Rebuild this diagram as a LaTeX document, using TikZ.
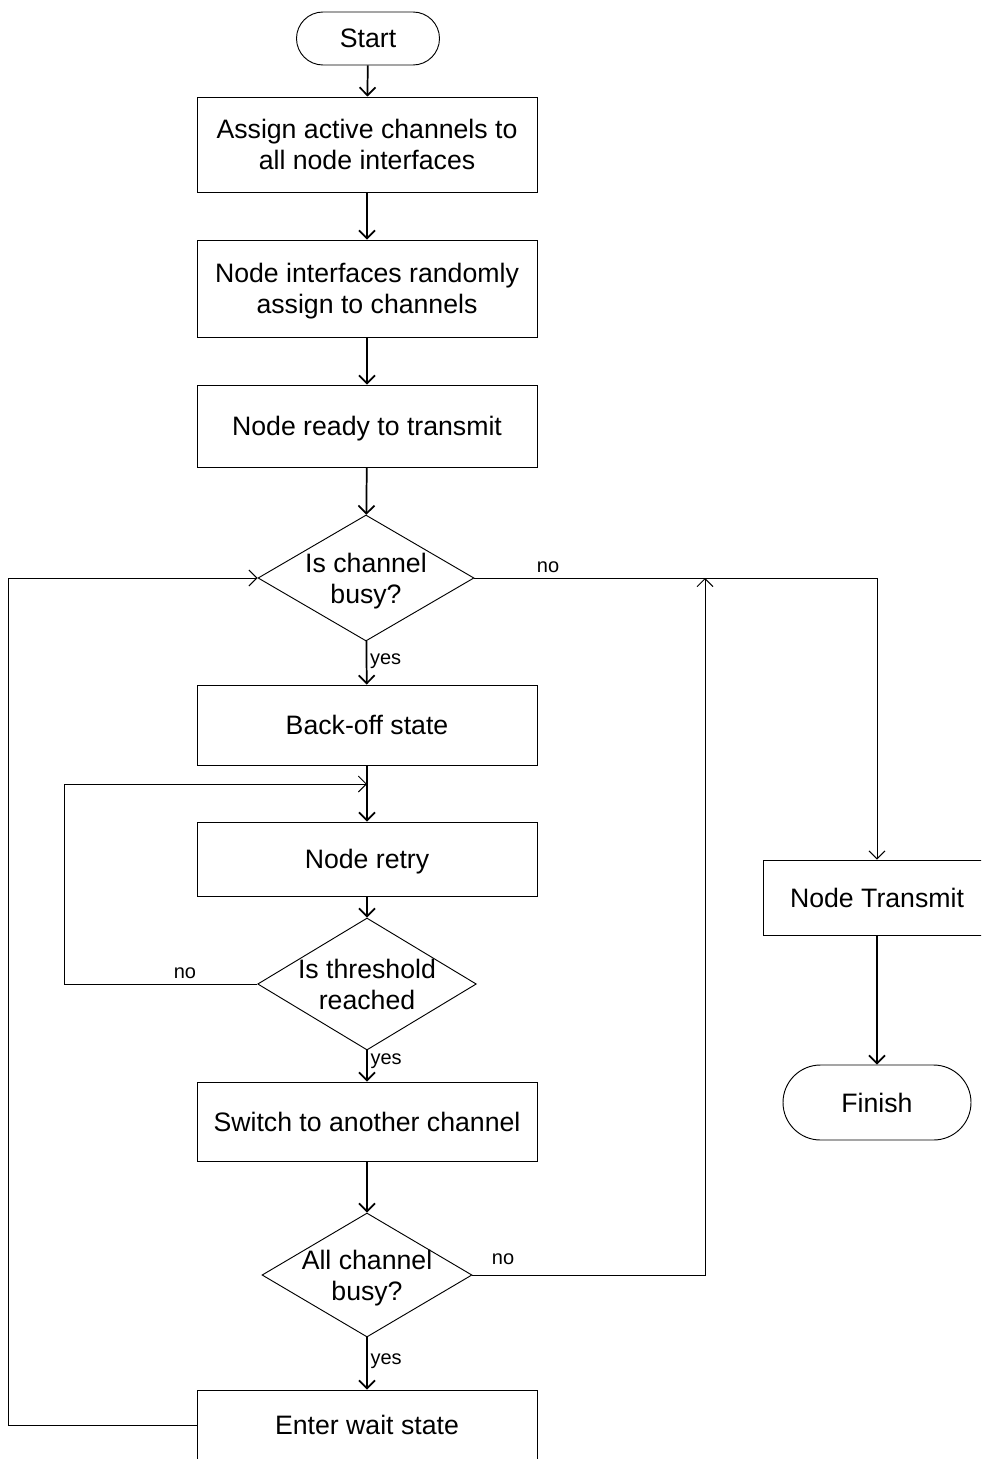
\documentclass[tikz,border=0pt]{standalone}
\usepackage{fontspec}
\setmainfont{Liberation Sans}
\usetikzlibrary{shapes.geometric,shapes.misc,arrows.meta}
\begin{document}
\begin{tikzpicture}[x=0.75pt,y=-0.75pt,
  big/.style={font=\fontsize{20}{23.25}\selectfont,text depth=0pt},
  box/.style={draw,line width=0.7pt,minimum width=255pt,align=center,big,inner sep=0pt},
  term/.style={draw,rounded rectangle,line width=0.7pt,big,inner sep=0pt},
  decision/.style={draw,diamond,line width=0.7pt,inner sep=0pt},
  dtext/.style={align=center,big,inner sep=0pt},
  flow/.style={line width=1.3pt,-{Straight Barb[length=6pt,width=12pt]}},
  link/.style={line width=0.7pt,-{Straight Barb[length=6pt,width=12pt]}},
  lbl/.style={font=\fontsize{15}{18}\selectfont,inner sep=0pt}
]
\useasboundingbox (0,0) rectangle (981,1459);
\clip (0,0) rectangle (981,1459);

% main column
\node[term,minimum width=107.25pt,minimum height=39.75pt] (start) at (368,38.5) {Start};
\node[box,minimum height=71.25pt] (assign) at (367,144.5) {Assign active channels to\\all node interfaces};
\node[box,minimum height=72.75pt] (random) at (367,288.5) {Node interfaces randomly\\assign to channels};
\node[box,minimum height=61.5pt] (ready) at (367,426) {Node ready to transmit};

\node[decision,minimum width=162pt,minimum height=94.5pt] (busy) at (366,578) {};
\node[dtext] (busyt) at (366,578) {Is channel\\busy?};

\node[box,minimum height=60pt] (backoff) at (367,725) {Back-off state};
\node[box,minimum height=55.5pt] (retry) at (367,859) {Node retry};

\node[decision,minimum width=164pt,minimum height=99pt] (thresh) at (367,984) {};
\node[dtext] (thresht) at (367,984) {Is threshold\\reached};

\node[box,minimum height=59.25pt] (switch) at (367,1121.5) {Switch to another channel};

\node[decision,minimum width=157.5pt,minimum height=93pt] (all) at (367,1275) {};
\node[dtext] (allt) at (367,1275) {All channel\\busy?};

\node[box,minimum height=52.5pt] (wait) at (367,1425) {Enter wait state};

% right column
\node[box,minimum width=171pt,minimum height=56.25pt] (transmit) at (877,897.5) {Node Transmit};
\node[term,minimum width=141pt,minimum height=56.25pt] (finish) at (877,1102.5) {Finish};

% junction points on existing connectors
\coordinate (retryin) at (367,784);
\coordinate (busyin) at (705,578);

% straight flow
\draw[flow] (start) -- (assign);
\draw[flow] (assign) -- (random);
\draw[flow] (random) -- (ready);
\draw[flow] (ready) -- (busy);
\draw[flow] (busy) -- node[lbl,right=2pt,pos=0.45] (yes1) {yes} (backoff);
\draw[flow] (backoff) -- (retry);
\draw[flow] (retry) -- (thresh);
\draw[flow] (thresh) -- node[lbl,right=2pt,pos=0.35] (yes2) {yes} (switch);
\draw[flow] (switch) -- (all);
\draw[flow] (all) -- node[lbl,right=2pt,pos=0.45] (yes3) {yes} (wait);
\draw[flow] (transmit) -- (finish);

% branches and loops
\draw[link] (busy.east) -- (877,578) -- (transmit.north);
\node[lbl] (no1) at (548,567) {no};

\draw[link] (thresh.west) -- (64,984) -- (64,784) -- (retryin);
\node[lbl] (no2) at (185,973) {no};

\draw[link] (all.east) -- (705,1275) -- (busyin);
\node[lbl] (no3) at (503,1259) {no};

\draw[link] (wait.west) -- (8,1425) -- (8,578) -- (busy.west);
\end{tikzpicture}
\end{document}
